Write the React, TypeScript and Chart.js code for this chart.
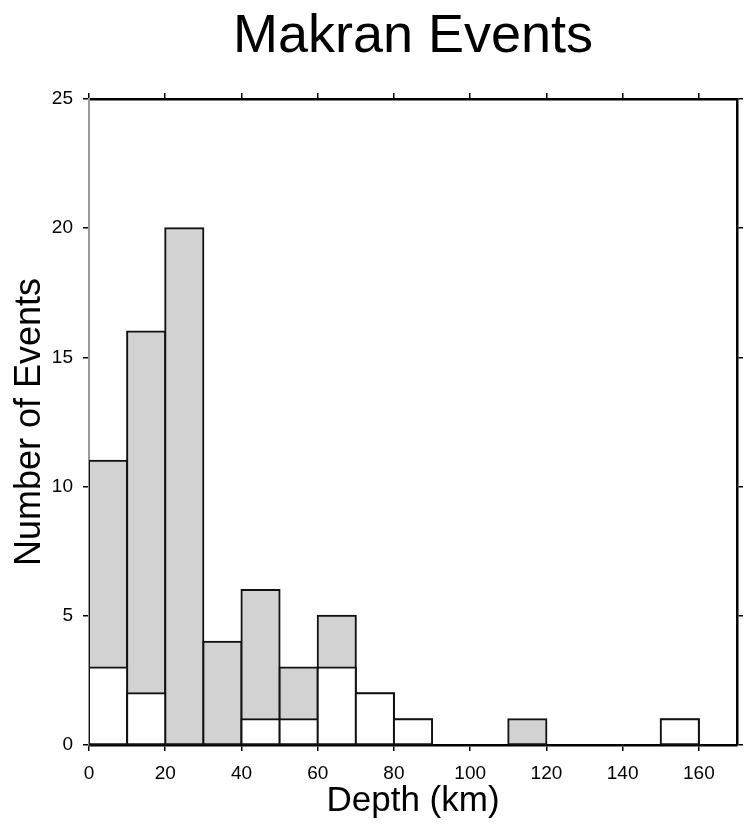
import React, { useEffect, useRef } from "react";
import { Chart, registerables } from "chart.js";

Chart.register(...registerables);

// Histogram bins (depth, km): centres of 10 km bins from 0 to 160
const binCenters = [5, 15, 25, 35, 45, 55, 65, 75, 85, 95, 105, 115, 125, 135, 145, 155];
// All events per bin (grey bars)
const allEvents = [11, 16, 20, 4, 6, 3, 5, 2, 1, 0, 0, 1, 0, 0, 0, 1];
// Subset of events per bin (white bars)
const subsetEvents = [3, 2, 0, 0, 1, 1, 3, 2, 1, 0, 0, 0, 0, 0, 0, 1];

const xMin = 0;
const xMax = 170;
const xStep = 20;
const yMin = 0;
const yMax = 25;
const yStep = 5;

const titleText = "Makran Events";
const xTitle = "Depth (km)";
const yTitle = "Number of Events";

const FONT = "'Liberation Sans', Arial, Helvetica, sans-serif";

export default function App() {
  const ref = useRef<HTMLCanvasElement | null>(null);

  useEffect(() => {
    document.body.style.margin = "0";
    const canvas = ref.current;
    if (!canvas) return;

    const toPts = (vals: number[]) =>
      binCenters.map((x, i) => ({ x, y: vals[i] === 0 ? null : vals[i] }));

    const tickGrid = {
      drawOnChartArea: false,
      drawTicks: true,
      tickLength: 6,
      color: "#000",
      lineWidth: 1.5,
      offset: false,
    };

    const chart = new Chart(canvas, {
      type: "bar",
      data: {
        datasets: [
          {
            label: "subset",
            data: toPts(subsetEvents) as any,
            backgroundColor: "#ffffff",
            borderColor: "#111",
            borderWidth: 2,
            borderSkipped: false,
            inflateAmount: 1,
            barPercentage: 1,
            categoryPercentage: 1,
            grouped: false,
            xAxisID: "x",
            yAxisID: "y",
          } as any,
          {
            label: "all",
            data: toPts(allEvents) as any,
            backgroundColor: "#d2d2d2",
            borderColor: "#111",
            borderWidth: 2,
            borderSkipped: false,
            inflateAmount: 1,
            barPercentage: 1,
            categoryPercentage: 1,
            grouped: false,
            xAxisID: "x",
            yAxisID: "y",
          } as any,
        ],
      },
      options: {
        animation: false,
        responsive: false,
        layout: { padding: 0 },
        plugins: {
          legend: { display: false },
          tooltip: { enabled: false },
          title: {
            display: true,
            text: titleText,
            fullSize: false,
            color: "#000",
            font: { family: FONT, size: 54, weight: "normal", lineHeight: 1.2 },
            padding: { top: 5, bottom: 0 },
          },
        },
        scales: {
          x: {
            type: "linear",
            position: "bottom",
            min: xMin,
            max: xMax,
            offset: false,
            grid: tickGrid as any,
            border: { display: true, color: "#000", width: 2.5 },
            ticks: {
              stepSize: xStep,
              includeBounds: false,
              maxRotation: 0,
              autoSkip: false,
              padding: 11,
              color: "#000",
              font: { family: FONT, size: 19 },
            },
            title: {
              display: true,
              text: xTitle,
              color: "#000",
              font: { family: FONT, size: 35, lineHeight: 1.2 },
              padding: { top: 0, bottom: 7 },
            },
            afterFit: (s: any) => {
              s.height = 84;
            },
          },
          x2: {
            type: "linear",
            position: "top",
            min: xMin,
            max: xMax,
            offset: false,
            grid: tickGrid as any,
            border: { display: true, color: "#000", width: 2.5 },
            ticks: { stepSize: xStep, includeBounds: false, display: false },
            afterFit: (s: any) => {
              s.height = 29.2;
            },
          },
          y: {
            type: "linear",
            position: "left",
            min: yMin,
            max: yMax,
            grid: tickGrid as any,
            border: { display: true, color: "#9a9a9a", width: 2 },
            ticks: {
              stepSize: yStep,
              padding: 10,
              color: "#000",
              font: { family: FONT, size: 19 },
            },
            title: {
              display: true,
              text: yTitle,
              color: "#000",
              font: { family: FONT, size: 36, lineHeight: 1.2 },
              padding: { top: 8, bottom: 0 },
            },
            afterFit: (s: any) => {
              s.width = 89;
            },
          },
          y2: {
            type: "linear",
            position: "right",
            min: yMin,
            max: yMax,
            grid: tickGrid as any,
            border: { display: true, color: "#000", width: 2.5 },
            ticks: { stepSize: yStep, display: false },
            afterFit: (s: any) => {
              s.width = 10;
            },
          },
        },
      } as any,
    });

    return () => chart.destroy();
  }, []);

  return (
    <div style={{ width: 747, height: 829, background: "#fff" }}>
      <canvas ref={ref} width={747} height={829} style={{ display: "block" }} />
    </div>
  );
}
